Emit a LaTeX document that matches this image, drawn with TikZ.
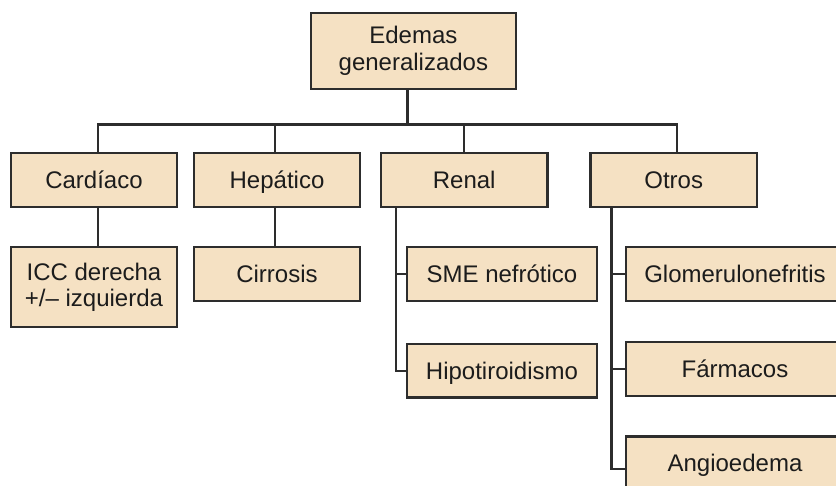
\documentclass[tikz,border=0pt]{standalone}
\usepackage{fontspec}
\setmainfont{Liberation Sans}
\definecolor{boxfill}{RGB}{245,225,195}
\definecolor{ink}{RGB}{45,45,45}
\definecolor{txt}{RGB}{28,28,28}
\begin{document}
\begin{tikzpicture}[x=1pt,y=-1pt,
  box/.style={draw=ink, fill=boxfill, line width=2.2pt, inner sep=0pt,
    align=center, text=txt, font=\fontsize{24}{26.5}\selectfont},
  oneline/.style={box, text height=22pt, text depth=4.8pt},
  catbox/.style={oneline, minimum width=166.5pt, minimum height=54pt},
  subbox/.style={oneline, minimum width=189.4pt, minimum height=53.4pt},
  widebox/.style={oneline, minimum width=218pt, minimum height=53.4pt},
  link/.style={draw=ink, line width=2.2pt}]
\useasboundingbox (0,0) rectangle (836,486);
\clip (0,0) rectangle (836,486);

% root
\node[box, minimum width=205.3pt, minimum height=76.3pt] (root) at (413.4,50.9) {Edemas\\generalizados};

% categories
\node[catbox] (card) at (94,179.7) {Cardíaco};
\node[catbox] (hep)  at (277,179.7) {Hepático};
\node[catbox] (ren)  at (464.2,179.7) {Renal};
\node[catbox] (otr)  at (673.7,179.7) {Otros};

% causes
\node[box, minimum width=166.5pt, minimum height=80pt] (icc) at (94,287.3) {ICC derecha\\+/-- izquierda};
\node[catbox, minimum height=53.7pt] (cirr) at (277,274.2) {Cirrosis};
\node[subbox] (sme)  at (502,274) {SME nefrótico};
\node[subbox] (hipo) at (502,370.8) {Hipotiroidismo};
\node[widebox] (glom)  at (735,274) {Glomerulonefritis};
\node[widebox] (farm)  at (735,369) {Fármacos};
\node[widebox] (angio) at (735,463.2) {Angioedema};

% branch points
\coordinate (hub) at (407.5,124.5);
\coordinate (sc) at (97.7,124.5);
\coordinate (sh) at (275,124.5);
\coordinate (sr) at (464,124.5);
\coordinate (so) at (677.3,124.5);
\coordinate (tr) at (395.7,0);
\coordinate (to) at (611.5,0);

% root to categories
\draw[link] (root.south -| hub) -- (hub);
\draw[link] (sc |- card.north) -- (sc) -- (so) -- (so |- otr.north);
\draw[link] (sh) -- (sh |- hep.north);
\draw[link] (sr) -- (sr |- ren.north);

% categories to causes
\draw[link] (sc |- card.south) -- (sc |- icc.north);
\draw[link] (sh |- hep.south) -- (sh |- cirr.north);
\draw[link] (tr |- ren.south) |- (hipo.west);
\draw[link] (tr |- sme.west) -- (sme.west);
\draw[link] (to |- otr.south) |- ([yshift=-6pt]angio.west);
\draw[link] (to |- glom.west) -- (glom.west);
\draw[link] (to |- farm.west) -- (farm.west);
\end{tikzpicture}
\end{document}
